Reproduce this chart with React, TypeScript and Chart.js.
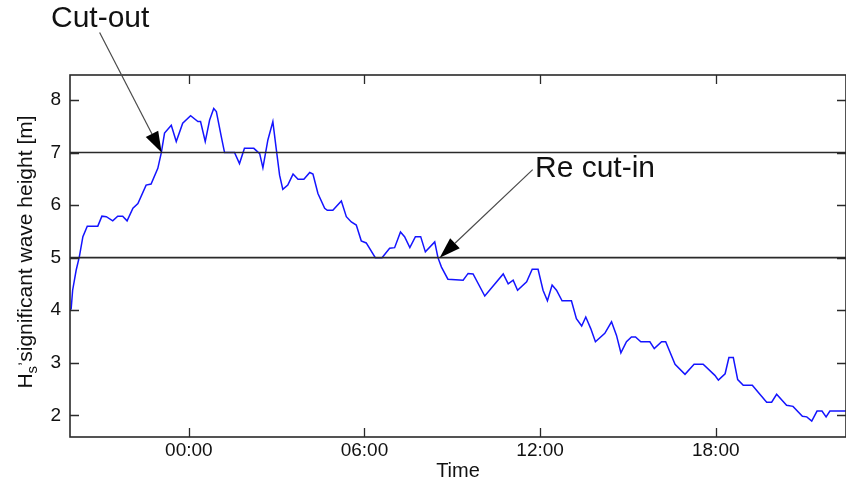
import React, { useEffect, useRef } from "react";
import { Chart, registerables } from "chart.js";

Chart.register(...registerables);

// Hours relative to midnight (negative = previous evening)
const hours = [
  -4.06, -4.02, -3.97, -3.85, -3.74, -3.62, -3.47, -3.11, -2.97, -2.82,
  -2.6, -2.43, -2.26, -2.11, -1.91, -1.74, -1.46, -1.29, -1.06, -0.94,
  -0.83, -0.6, -0.43, -0.21, 0.06, 0.31, 0.4, 0.56, 0.71, 0.85,
  0.94, 1.11, 1.22, 1.56, 1.73, 1.9, 2.22, 2.42, 2.53, 2.7,
  2.87, 2.99, 3.1, 3.21, 3.38, 3.56, 3.73, 3.93, 4.13, 4.24,
  4.41, 4.64, 4.73, 4.92, 5.21, 5.38, 5.55, 5.72, 5.89, 6.06,
  6.37, 6.6, 6.86, 7.03, 7.23, 7.37, 7.55, 7.74, 7.92, 8.08,
  8.4, 8.51, 8.63, 8.85, 9.37, 9.54, 9.71, 10.11, 10.74, 10.91,
  11.08, 11.23, 11.54, 11.73, 11.93, 12.1, 12.25, 12.41, 12.56, 12.75,
  13.07, 13.24, 13.42, 13.56, 13.73, 13.89, 14.21, 14.44, 14.61, 14.76,
  14.95, 15.12, 15.26, 15.44, 15.75, 15.9, 16.15, 16.29, 16.61, 16.95,
  17.26, 17.57, 17.97, 18.09, 18.32, 18.45, 18.6, 18.75, 18.94, 19.25,
  19.45, 19.74, 19.91, 20.08, 20.42, 20.64, 20.96, 21.11, 21.28, 21.46,
  21.63, 21.77, 21.9, 22.45,
];

// Significant wave height Hs [m]
const waveHeights = [
  4.0, 4.03, 4.38, 4.76, 5.02, 5.4, 5.6, 5.6, 5.79, 5.78,
  5.7, 5.79, 5.79, 5.7, 5.94, 6.03, 6.38, 6.4, 6.7, 7.0,
  7.37, 7.52, 7.21, 7.56, 7.7, 7.59, 7.59, 7.21, 7.62, 7.84,
  7.78, 7.3, 7.0, 7.0, 6.79, 7.08, 7.08, 6.98, 6.71, 7.24,
  7.59, 7.05, 6.57, 6.3, 6.38, 6.59, 6.49, 6.49, 6.62, 6.59,
  6.22, 5.94, 5.9, 5.9, 6.08, 5.78, 5.68, 5.62, 5.32, 5.28,
  5.0, 5.0, 5.18, 5.19, 5.49, 5.4, 5.19, 5.4, 5.4, 5.11,
  5.3, 5.0, 4.82, 4.59, 4.57, 4.7, 4.69, 4.27, 4.69, 4.5,
  4.57, 4.38, 4.54, 4.78, 4.78, 4.38, 4.18, 4.48, 4.38, 4.18,
  4.18, 3.84, 3.7, 3.87, 3.65, 3.4, 3.56, 3.78, 3.52, 3.19,
  3.4, 3.49, 3.49, 3.4, 3.4, 3.27, 3.4, 3.4, 2.97, 2.78,
  2.97, 2.97, 2.76, 2.67, 2.79, 3.1, 3.1, 2.68, 2.57, 2.57,
  2.44, 2.25, 2.25, 2.4, 2.19, 2.17, 1.98, 1.97, 1.89, 2.08,
  2.08, 1.97, 2.08, 2.08,
];

// Operating limits: cut-out and re cut-in thresholds [m]
const thresholds = [7, 5];

const xTickHours = [0, 6, 12, 18];
const xTickLabels = ["00:00", "06:00", "12:00", "18:00"];
const yTickValues = [2, 3, 4, 5, 6, 7, 8];

const xMin = -4.06;
const xMax = 22.45;
const yMin = 1.587;
const yMax = 8.476;

// Arrow annotations: label and arrow tip in data units
const annotationLabels = ["Cut-out", "Re cut-in"];
const annotationTipHours = [-0.93, 8.57];
const annotationTipValues = [7, 5];

const FONT = "'Liberation Sans', Arial, sans-serif";
const AXIS_COLOR = "#2a2a2a";

// Arrow tail offsets from the tip and label anchor, in px
const annotationLayout = [
  { tailDx: -62, tailDy: -120, textX: 51, textY: 27 },
  { tailDx: 93, tailDy: -88, textX: 535, textY: 177 },
];

const framePlugin = {
  id: "frame",
  afterDatasetsDraw(chart: any) {
    const { ctx, chartArea } = chart;
    const { left, right, top, bottom } = chartArea;
    const xs = chart.scales.x;
    const ys = chart.scales.y;
    ctx.save();
    ctx.strokeStyle = AXIS_COLOR;
    ctx.lineWidth = 1.6;
    ctx.strokeRect(left, top, right - left, bottom - top);
    ctx.lineWidth = 1.3;
    const tl = 9;
    ctx.beginPath();
    for (const v of yTickValues) {
      const y = Math.round(ys.getPixelForValue(v)) + 0.5;
      ctx.moveTo(left, y);
      ctx.lineTo(left + tl, y);
      ctx.moveTo(right, y);
      ctx.lineTo(right - tl, y);
    }
    for (const h of xTickHours) {
      const x = Math.round(xs.getPixelForValue(h)) + 0.5;
      ctx.moveTo(x, bottom);
      ctx.lineTo(x, bottom - tl);
      ctx.moveTo(x, top);
      ctx.lineTo(x, top + tl);
    }
    ctx.stroke();
    ctx.restore();
  },
  afterDraw(chart: any) {
    const { ctx, chartArea } = chart;
    const xs = chart.scales.x;
    const ys = chart.scales.y;
    ctx.save();

    // x-axis title
    ctx.fillStyle = "#111";
    ctx.font = `20px ${FONT}`;
    ctx.textAlign = "center";
    ctx.textBaseline = "alphabetic";
    ctx.fillText("Time", (chartArea.left + chartArea.right) / 2, 477);

    // y-axis title with subscript
    const cy = (chartArea.top + chartArea.bottom) / 2 - 4;
    ctx.translate(32, cy);
    ctx.rotate(-Math.PI / 2);
    const big = `21px ${FONT}`;
    const small = `15px ${FONT}`;
    ctx.font = big;
    const wH = ctx.measureText("H").width;
    const rest = "significant wave height [m]";
    const wRest = ctx.measureText(rest).width;
    ctx.font = small;
    const wS = ctx.measureText("s").width;
    const wC = ctx.measureText(",").width;
    const total = wH + wS + wC + wRest;
    let x = -total / 2;
    ctx.textAlign = "left";
    ctx.font = big;
    ctx.fillText("H", x, 0);
    x += wH;
    ctx.font = small;
    ctx.fillText("s", x, 5);
    x += wS;
    ctx.fillText(",", x, -12);
    x += wC;
    ctx.font = big;
    ctx.fillText(rest, x, 0);
    ctx.setTransform(1, 0, 0, 1, 0, 0);

    // annotation arrows
    annotationLabels.forEach((label, i) => {
      const lay = annotationLayout[i];
      const tipX = xs.getPixelForValue(annotationTipHours[i]);
      const tipY = ys.getPixelForValue(annotationTipValues[i]);
      const tailX = tipX + lay.tailDx;
      const tailY = tipY + lay.tailDy;
      const ang = Math.atan2(tipY - tailY, tipX - tailX);
      const headLen = 21;
      const headHalf = 7;
      const baseX = tipX - headLen * Math.cos(ang);
      const baseY = tipY - headLen * Math.sin(ang);
      ctx.strokeStyle = "#4a4a4a";
      ctx.lineWidth = 1.2;
      ctx.beginPath();
      ctx.moveTo(tailX, tailY);
      ctx.lineTo(baseX, baseY);
      ctx.stroke();
      ctx.fillStyle = "#000";
      ctx.beginPath();
      ctx.moveTo(tipX, tipY);
      ctx.lineTo(baseX + headHalf * Math.sin(ang), baseY - headHalf * Math.cos(ang));
      ctx.lineTo(baseX - headHalf * Math.sin(ang), baseY + headHalf * Math.cos(ang));
      ctx.closePath();
      ctx.fill();

      ctx.fillStyle = "#111";
      ctx.font = `30px ${FONT}`;
      ctx.textAlign = "left";
      ctx.textBaseline = "alphabetic";
      ctx.fillText(label, lay.textX, lay.textY);
    });
    ctx.restore();
  },
};

export default function App() {
  const canvasRef = useRef<HTMLCanvasElement | null>(null);

  useEffect(() => {
    const canvas = canvasRef.current;
    if (!canvas) return;

    const seriesPoints = hours.map((h, i) => ({ x: h, y: waveHeights[i] }));
    const thresholdSets = thresholds.map((t) => ({
      data: [
        { x: xMin, y: t },
        { x: xMax, y: t },
      ],
      borderColor: AXIS_COLOR,
      borderWidth: 1.6,
      pointRadius: 0,
      tension: 0,
    }));

    const chart = new Chart(canvas, {
      type: "line",
      data: {
        datasets: [
          ...thresholdSets,
          {
            data: seriesPoints,
            borderColor: "#1414ff",
            borderWidth: 1.5,
            pointRadius: 0,
            tension: 0,
          },
        ],
      },
      options: {
        animation: false,
        responsive: false,
        devicePixelRatio: 1,
        layout: { padding: { top: 75, left: 0, right: 0, bottom: 0 } },
        plugins: {
          legend: { display: false },
          tooltip: { enabled: false },
          title: { display: false },
        },
        scales: {
          x: {
            type: "linear",
            min: xMin,
            max: xMax,
            grid: { display: false, drawTicks: false },
            border: { display: false },
            afterBuildTicks: (scale: any) => {
              scale.ticks = xTickHours.map((v) => ({ value: v }));
            },
            afterFit: (scale: any) => {
              scale.height = 49;
            },
            ticks: {
              autoSkip: false,
              maxRotation: 0,
              padding: 2,
              color: "#111",
              font: { family: FONT, size: 19 },
              callback: (value: any) => {
                const idx = xTickHours.indexOf(Number(value));
                return idx >= 0 ? xTickLabels[idx] : "";
              },
            },
          },
          y: {
            type: "linear",
            min: yMin,
            max: yMax,
            grid: { display: false, drawTicks: false },
            border: { display: false },
            afterBuildTicks: (scale: any) => {
              scale.ticks = yTickValues.map((v) => ({ value: v }));
            },
            afterFit: (scale: any) => {
              scale.width = 70;
            },
            ticks: {
              autoSkip: false,
              padding: 9,
              color: "#111",
              font: { family: FONT, size: 19 },
              callback: (value: any) => String(value),
            },
          },
        },
      },
      plugins: [framePlugin],
    });

    return () => {
      chart.destroy();
    };
  }, []);

  return (
    <div style={{ position: "absolute", left: 0, top: 0, width: 846, height: 486, background: "#fff" }}>
      <canvas ref={canvasRef} width={846} height={486} />
    </div>
  );
}
